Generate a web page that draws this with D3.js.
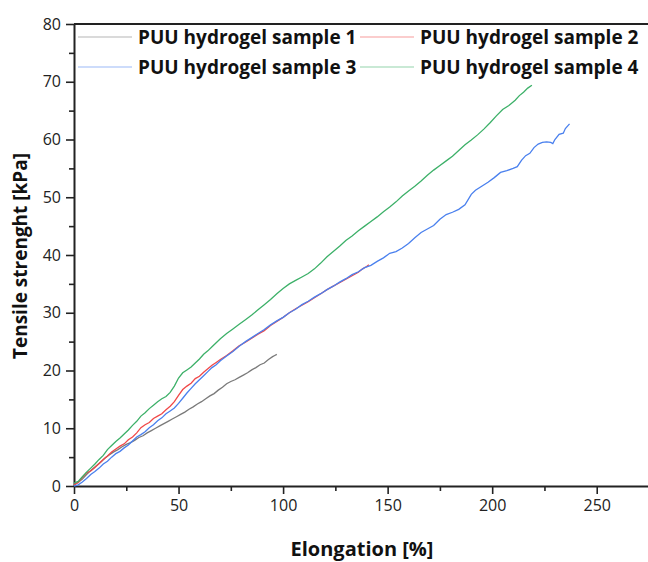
<!DOCTYPE html>
<html>
<head>
<meta charset="utf-8">
<script src="https://cdn.jsdelivr.net/npm/d3@7"></script>
<style>
  body { margin: 0; background: #fff; }
  text { font-family: "Open Sans", sans-serif; }
</style>
</head>
<body>
<script>
const width = 648;
const height = 562;
const margin = { top: 24, left: 74, right: -1, bottom: 76 };

// [elongation %, tensile strength kPa]
const sample1 = [
  [0,0.3],[2,0.6],[4,1.2],[6,2.0],[7.5,2.5],[9,3.0],[11,3.6],[13,4.2],[15,4.9],[17,5.4],
  [19,5.9],[21,6.3],[23,6.8],[25,7.2],[27,7.5],[29,7.9],[31,8.4],[33,8.7],[35,9.2],[37,9.6],
  [39,10.0],[41,10.4],[43,10.8],[45,11.2],[47,11.6],[49,12.0],[51,12.4],[53,12.8],[55,13.3],
  [57,13.7],[59,14.2],[61,14.6],[63,15.1],[65,15.6],[67,16.0],[69,16.6],[71,17.1],[73,17.7],
  [75,18.1],[77,18.4],[79,18.8],[81,19.2],[83,19.6],[85,20.1],[87,20.5],[89,21.0],[91,21.3],
  [93,21.9],[95,22.4],[96,22.6],[97,22.8]
];
const sample2 = [
  [0,0.2],[2,0.6],[4,1.5],[6,2.3],[8,2.6],[10,3.2],[12,3.9],[14,4.6],[16,5.2],[18,5.9],
  [20,6.4],[22,6.9],[24,7.3],[26,8.0],[28,8.5],[30,9.2],[32,10.1],[34,10.6],[36,11.0],[38,11.7],
  [40,12.1],[42,12.5],[44,13.2],[46,13.8],[48,14.6],[50,15.7],[52,16.7],[54,17.3],[56,17.8],
  [58,18.6],[60,19.0],[62,19.7],[64,20.3],[66,20.9],[68,21.4],[70,21.9],[73,22.6],[76,23.4],
  [79,24.3],[82,24.9],[85,25.6],[88,26.3],[91,26.9],[94,27.8],[97,28.5],[100,29.2],[103,30.0],
  [106,30.7],[109,31.3],[112,31.9],[115,32.6],[118,33.3],[121,34.0],[124,34.6],[127,35.2],
  [130,35.8],[133,36.4],[136,37.0],[138,37.6],[140,38.0],[141,38.3]
];
const sample3 = [
  [0,0],[2,0.2],[4,0.7],[6,1.3],[8,2.0],[10,2.5],[12,3.1],[14,3.8],[16,4.3],[18,5.0],
  [20,5.6],[22,6.0],[24,6.6],[26,7.1],[28,7.8],[30,8.5],[32,8.9],[34,9.4],[36,10.1],[38,10.6],
  [40,11.3],[42,11.8],[44,12.5],[46,13.0],[48,13.5],[50,14.3],[52,15.2],[54,16.1],[56,16.9],
  [58,17.7],[60,18.4],[62,19.1],[64,19.8],[66,20.5],[68,21.0],[70,21.7],[73,22.5],[76,23.3],
  [79,24.2],[82,25.0],[85,25.7],[88,26.4],[91,27.1],[94,27.9],[97,28.6],[100,29.2],[103,30.0],
  [106,30.6],[109,31.4],[112,32.0],[115,32.7],[118,33.3],[121,34.0],[124,34.6],[127,35.3],
  [130,35.9],[133,36.6],[136,37.1],[139,37.8],[142,38.2],[145,38.9],[148,39.5],[151,40.3],
  [154,40.6],[157,41.2],[160,42.0],[163,43.0],[166,43.9],[169,44.5],[172,45.1],[175,46.2],
  [178,47.0],[181,47.4],[184,47.9],[187,48.7],[190,50.5],[192,51.2],[195,51.9],[198,52.6],
  [201,53.4],[204,54.3],[207,54.6],[210,55.0],[212,55.3],[214,56.4],[216,57.2],[218,57.6],
  [220,58.6],[222,59.2],[224,59.5],[226,59.6],[228,59.5],[229,59.3],[230,60.0],[232,60.9],
  [234,61.1],[235,61.9],[237,62.7]
];
const sample4 = [
  [0,0.5],[2,0.8],[4,1.6],[6,2.4],[8,3.1],[10,3.8],[12,4.6],[14,5.3],[16,6.3],[18,7.0],
  [20,7.7],[22,8.3],[24,9.0],[26,9.7],[28,10.5],[30,11.2],[32,12.1],[34,12.7],[36,13.4],
  [38,14.0],[40,14.6],[42,15.1],[44,15.5],[46,16.2],[48,17.3],[50,18.7],[52,19.6],[54,20.1],
  [56,20.6],[58,21.3],[60,22.0],[62,22.8],[64,23.4],[66,24.1],[68,24.8],[70,25.5],[73,26.4],
  [76,27.2],[79,28.0],[82,28.8],[85,29.6],[88,30.5],[91,31.4],[94,32.3],[97,33.3],[100,34.2],
  [103,35.0],[106,35.6],[109,36.2],[112,36.8],[115,37.6],[118,38.6],[121,39.7],[124,40.6],
  [127,41.5],[130,42.5],[133,43.3],[136,44.2],[139,45.0],[142,45.8],[145,46.6],[148,47.5],
  [151,48.3],[154,49.2],[157,50.2],[160,51.1],[163,51.9],[166,52.8],[169,53.8],[172,54.7],
  [175,55.5],[178,56.3],[181,57.1],[184,58.1],[187,59.1],[190,59.9],[193,60.8],[196,61.8],
  [199,62.9],[202,64.1],[205,65.2],[208,65.9],[211,66.8],[213,67.6],[215,68.2],[217,68.9],
  [219,69.4]
];

const seriesNames = ["PUU hydrogel sample 1", "PUU hydrogel sample 2", "PUU hydrogel sample 3", "PUU hydrogel sample 4"];
const seriesData = [sample1, sample2, sample3, sample4];
const colores = ["#7a7a7a", "#f04848", "#4a80ee", "#3cb068"];

const xTicks = [0, 50, 100, 150, 200, 250];
const yTicks = [0, 10, 20, 30, 40, 50, 60, 70, 80];

const svg = d3.select("body").append("svg")
  .attr("width", width)
  .attr("height", height);

const escalaX = d3.scaleLinear().domain([0, 275]).range([margin.left, width - margin.right]);
const escalaY = d3.scaleLinear().domain([0, 80]).range([486, margin.top]);

// linea superior del marco
svg.append("line")
  .attr("x1", margin.left).attr("x2", width)
  .attr("y1", escalaY(80)).attr("y2", escalaY(80))
  .attr("stroke", "#222").attr("stroke-width", 2);

// ticks menores
const ejeXMenor = d3.axisBottom(escalaX).tickValues(d3.range(25, 275, 50)).tickSize(5).tickFormat("");
const ejeYMenor = d3.axisLeft(escalaY).tickValues(d3.range(5, 80, 10)).tickSize(5).tickFormat("");

svg.append("g").attr("transform", `translate(0, ${escalaY(0)})`).call(ejeXMenor)
  .call((g) => g.select(".domain").remove());
svg.append("g").attr("transform", `translate(${margin.left}, 0)`).call(ejeYMenor)
  .call((g) => g.select(".domain").remove());

const ejeX = d3.axisBottom(escalaX).tickValues(xTicks).tickSize(8).tickSizeOuter(0).tickPadding(6);
const ejeY = d3.axisLeft(escalaY).tickValues(yTicks).tickSize(8).tickSizeOuter(0).tickPadding(5);

const gx = svg.append("g").attr("transform", `translate(0, ${escalaY(0)})`).call(ejeX);
const gy = svg.append("g").attr("transform", `translate(${margin.left}, 0)`).call(ejeY);

[gx, gy].forEach((g) => {
  g.selectAll("text").style("font-size", "16px").attr("fill", "#222");
  g.select(".domain").attr("stroke", "#222").attr("stroke-width", 2);
});
svg.selectAll("g .tick line").attr("stroke", "#222").attr("stroke-width", 1.6);

// curvas
const linea = d3.line()
  .x((d) => escalaX(d[0]))
  .y((d) => escalaY(d[1]));

svg.append("g")
  .selectAll("path")
  .data(seriesData)
  .join("path")
  .attr("d", linea)
  .attr("fill", "none")
  .attr("stroke", (d, i) => colores[i])
  .attr("stroke-width", 1.3);

// leyenda
const leyenda = svg.append("g");
const posLeyenda = [[78, 37], [360, 37], [78, 67], [360, 67]];
seriesNames.forEach((nombre, i) => {
  const [lx, ly] = posLeyenda[i];
  leyenda.append("line")
    .attr("x1", lx).attr("x2", lx + 54)
    .attr("y1", ly).attr("y2", ly)
    .attr("stroke", colores[i]).attr("stroke-opacity", 0.55).attr("stroke-width", 1.2);
  leyenda.append("text")
    .attr("x", lx + 60).attr("y", ly + 7)
    .style("font-size", "19px").style("font-weight", "bold")
    .attr("fill", "#111")
    .text(nombre);
});

// titulos de ejes
svg.append("text")
  .attr("x", 362).attr("y", 556)
  .attr("text-anchor", "middle")
  .style("font-size", "20px").style("font-weight", "bold")
  .attr("fill", "#111")
  .text("Elongation [%]");

svg.append("text")
  .attr("transform", `translate(27, 256) rotate(-90)`)
  .attr("text-anchor", "middle")
  .style("font-size", "19px").style("font-weight", "bold")
  .attr("fill", "#111")
  .text("Tensile strenght [kPa]");
</script>
</body>
</html>
